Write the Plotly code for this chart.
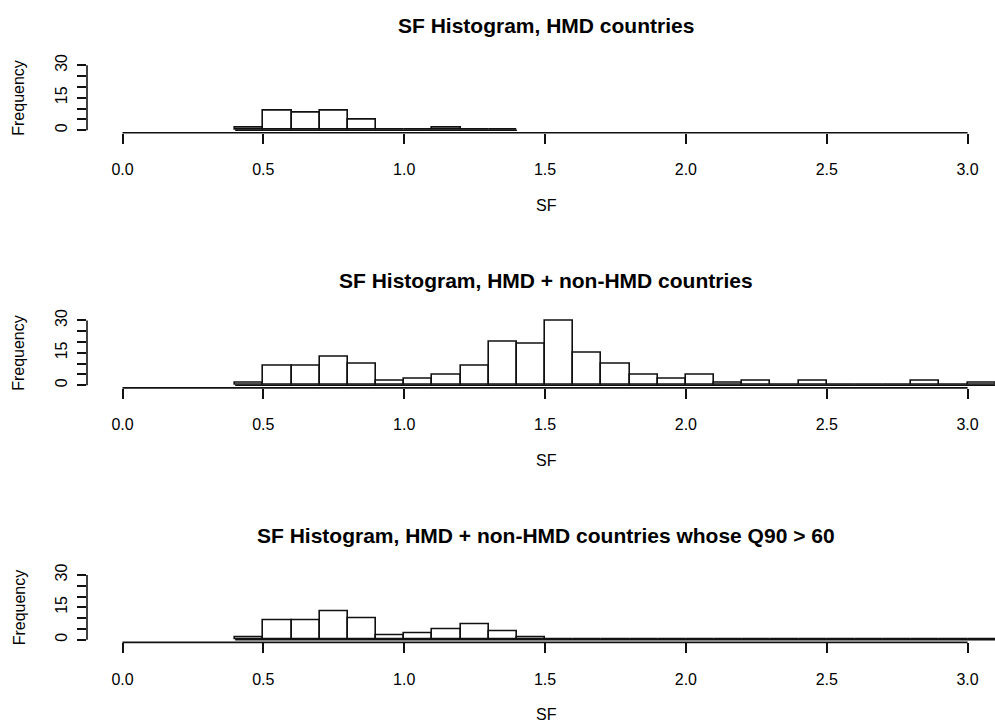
import plotly.graph_objects as go

# ---- data -------------------------------------------------------------
BIN_WIDTH = 0.1

# histogram breaks (left edge of first bin) and counts per 0.1-wide bin
hmd_start = 0.4
hmd_counts = [1, 9, 8, 9, 5, 0, 0, 1, 0, 0]

all_start = 0.4
all_counts = [1, 9, 9, 13, 10, 2, 3, 5, 9, 20, 19, 30, 15, 10, 5, 3, 5,
              1, 2, 0, 2, 0, 0, 0, 2, 0, 1]

q90_start = 0.4
q90_counts = [1, 9, 9, 13, 10, 2, 3, 5, 7, 4, 1, 0, 0, 0, 0, 0, 0,
              0, 0, 0, 0, 0, 0, 0, 0, 0, 0]

titles = [
    "SF Histogram, HMD countries",
    "SF Histogram, HMD + non-HMD countries",
    "SF Histogram, HMD + non-HMD countries whose Q90 > 60",
]

x_ticks = [0.0, 0.5, 1.0, 1.5, 2.0, 2.5, 3.0]
x_tick_labels = ["0.0", "0.5", "1.0", "1.5", "2.0", "2.5", "3.0"]
y_ticks = [0, 5, 10, 15, 20, 25, 30]
y_tick_labels = ["0", "", "", "15", "", "", "30"]

x_label = "SF"
y_label = "Frequency"

# ---- layout geometry (pixels) ----------------------------------------
W, H = 995, 727
PX_PER_X = 281.7          # pixels per SF unit
X_ZERO_PX = 122.5         # where SF = 0 sits
PLOT_LEFT_PX = 87.0       # left edge of each plot region
PX_PER_Y = 2.19           # pixels per count
Y_RANGE = [-1.2, 31.2]
ZERO_ROWS_PX = [122.7, 381.0, 638.7]   # pixel row of count 0 in each panel
TITLE_CENTER_PX = 546

INK = "#111111"
FONT = "Liberation Sans, Arial, sans-serif"
LW = 1.6

x_range = [(PLOT_LEFT_PX - X_ZERO_PX) / PX_PER_X, (W - X_ZERO_PX) / PX_PER_X]
plot_h = (Y_RANGE[1] - Y_RANGE[0]) * PX_PER_Y

panels = [(hmd_start, hmd_counts), (all_start, all_counts), (q90_start, q90_counts)]

fig = go.Figure()
annotations = []
shapes = []

for i, ((start, counts), title, zero_px) in enumerate(zip(panels, titles, ZERO_ROWS_PX)):
    n = i + 1
    xa = "x" if n == 1 else f"x{n}"
    ya = "y" if n == 1 else f"y{n}"
    xkey = "xaxis" if n == 1 else f"xaxis{n}"
    ykey = "yaxis" if n == 1 else f"yaxis{n}"

    breaks = [round(start + k * BIN_WIDTH, 10) for k in range(len(counts) + 1)]
    centers = [(breaks[k] + breaks[k + 1]) / 2 for k in range(len(counts))]

    # baseline of the histogram (shows through where a bin is empty)
    fig.add_trace(go.Scatter(
        x=[breaks[0], breaks[-1]], y=[0, 0], mode="lines",
        line=dict(color=INK, width=LW), xaxis=xa, yaxis=ya,
        hoverinfo="skip", showlegend=False,
    ))
    fig.add_trace(go.Bar(
        x=centers, y=counts, width=BIN_WIDTH,
        marker=dict(color="white", line=dict(color=INK, width=LW)),
        xaxis=xa, yaxis=ya, showlegend=False,
    ))

    bottom_px = zero_px - Y_RANGE[0] * PX_PER_Y
    top_px = bottom_px - plot_h
    dom = [1 - bottom_px / H, 1 - top_px / H]

    fig.layout[xkey] = dict(
        domain=[PLOT_LEFT_PX / W, 1], range=x_range, anchor=ya,
        tickvals=x_ticks, ticktext=x_tick_labels,
        ticks="outside", ticklen=10, tickwidth=LW, tickcolor=INK,
        showline=False, showgrid=False, zeroline=False,
        tickfont=dict(family=FONT, size=16, color="black"),
        ticklabelstandoff=12, fixedrange=True,
    )
    fig.layout[ykey] = dict(
        domain=dom, range=Y_RANGE, anchor=xa,
        tickvals=y_ticks, ticktext=y_tick_labels, tickangle=-90,
        ticks="outside", ticklen=9, tickwidth=LW, tickcolor=INK,
        showline=False, showgrid=False, zeroline=False,
        tickfont=dict(family=FONT, size=16, color="black"),
        ticklabelstandoff=4, fixedrange=True,
    )

    # R-style axis lines spanning only the tick range
    shapes.append(dict(type="line", xref=xa, yref=f"{ya} domain",
                       x0=x_ticks[0], x1=x_ticks[-1], y0=0, y1=0,
                       line=dict(color=INK, width=LW)))
    shapes.append(dict(type="line", xref=f"{xa} domain", yref=ya,
                       x0=0, x1=0, y0=y_ticks[0], y1=y_ticks[-1],
                       line=dict(color=INK, width=LW)))

    annotations.append(dict(
        text=title, xref="paper", yref="paper",
        x=TITLE_CENTER_PX / W, y=1 - (zero_px - 106) / H,
        xanchor="center", yanchor="middle", showarrow=False,
        font=dict(family=FONT, size=21, color="black", weight="bold"),
    ))
    annotations.append(dict(
        text=x_label, xref="paper", yref="paper",
        x=TITLE_CENTER_PX / W, y=1 - (zero_px + 76) / H,
        xanchor="center", yanchor="middle", showarrow=False,
        font=dict(family=FONT, size=16, color="black"),
    ))
    annotations.append(dict(
        text=y_label, xref="paper", yref="paper",
        x=19 / W, y=1 - ((top_px + bottom_px) / 2) / H,
        xanchor="center", yanchor="middle", showarrow=False, textangle=-90,
        font=dict(family=FONT, size=16, color="black"),
    ))

fig.update_layout(
    width=W, height=H,
    margin=dict(l=0, r=0, t=0, b=0),
    paper_bgcolor="white", plot_bgcolor="white",
    bargap=0, showlegend=False,
    annotations=annotations, shapes=shapes,
)

fig.write_html("out.html", config={"displayModeBar": False})
